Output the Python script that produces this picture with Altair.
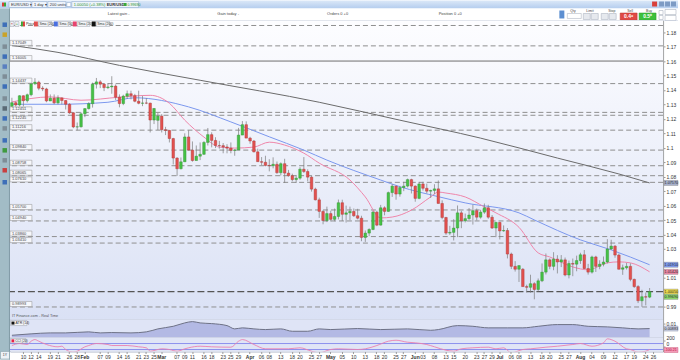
import altair as alt
import pandas as pd

FONT = "Liberation Sans"

# ---------------------------------------------------------------- data
days = [d.strftime("%Y-%m-%d") for d in pd.bdate_range("2022-01-05", "2022-08-30")]
N = 167  # candles Jan 5 .. Aug 25, 2022 (last 3 slots empty)

open_px = [
    1.1286, 1.1312, 1.1296, 1.1360, 1.1326, 1.1367, 1.1443, 1.1454, 1.1412, 1.1407,
    1.1324, 1.1343, 1.1311, 1.1345, 1.1327, 1.1301, 1.1242, 1.1144, 1.1145, 1.1235,
    1.1271, 1.1305, 1.1440, 1.1456, 1.1440, 1.1416, 1.1421, 1.1427, 1.1350, 1.1306,
    1.1357, 1.1374, 1.1361, 1.1322, 1.1308, 1.1310, 1.1309, 1.1192, 1.1190, 1.1219,
    1.1125, 1.1120, 1.1064, 1.0929, 1.0855, 1.0903, 1.1075, 1.0984, 1.0912, 1.0942,
    1.0955, 1.1037, 1.1091, 1.1051, 1.1016, 1.1015, 1.1006, 1.0998, 1.0982, 1.0985,
    1.1088, 1.1160, 1.1067, 1.1047, 1.0972, 1.0904, 1.0900, 1.0878, 1.0876, 1.0886,
    1.0828, 1.0890, 1.0825, 1.0807, 1.0780, 1.0790, 1.0852, 1.0836, 1.0797, 1.0714,
    1.0640, 1.0560, 1.0497, 1.0545, 1.0505, 1.0525, 1.0620, 1.0540, 1.0550, 1.0560,
    1.0530, 1.0513, 1.0380, 1.0410, 1.0435, 1.0555, 1.0465, 1.0585, 1.0560, 1.0690,
    1.0735, 1.0680, 1.0725, 1.0735, 1.0780, 1.0735, 1.0650, 1.0750, 1.0720, 1.0700,
    1.0705, 1.0716, 1.0615, 1.0518, 1.0410, 1.0415, 1.0445, 1.0550, 1.0495, 1.0510,
    1.0535, 1.0565, 1.0520, 1.0555, 1.0585, 1.0520, 1.0445, 1.0484, 1.0425, 1.0428,
    1.0265, 1.0180, 1.0160, 1.0160, 1.0040, 1.0035, 1.0060, 1.0020, 1.0080, 1.0140,
    1.0225, 1.0180, 1.0230, 1.0210, 1.0225, 1.0120, 1.0200, 1.0195, 1.0220, 1.0260,
    1.0165, 1.0140, 1.0245, 1.0180, 1.0195, 1.0210, 1.0300, 1.0320, 1.0258, 1.0160,
    1.0170, 1.0180, 1.0090, 1.0040, 0.9942, 0.9970, 0.9967]
high_px = [
    1.1346, 1.1321, 1.1364, 1.1363, 1.1375, 1.1450, 1.1482, 1.1464, 1.1426, 1.1415,
    1.1369, 1.1369, 1.1363, 1.1348, 1.1330, 1.1308, 1.1247, 1.1175, 1.1245, 1.1275,
    1.1315, 1.1451, 1.1483, 1.1468, 1.1442, 1.1447, 1.1495, 1.1438, 1.1369, 1.1367,
    1.1396, 1.1395, 1.1373, 1.1395, 1.1360, 1.1344, 1.1312, 1.1275, 1.1242, 1.1233,
    1.1145, 1.1124, 1.1069, 1.0935, 1.0933, 1.1100, 1.1121, 1.1044, 1.1016, 1.1037,
    1.1046, 1.1137, 1.1107, 1.1073, 1.1048, 1.1033, 1.1025, 1.1037, 1.0991, 1.1138,
    1.1185, 1.1183, 1.1076, 1.1054, 1.0994, 1.0936, 1.0945, 1.0921, 1.0934, 1.0905,
    1.0899, 1.0924, 1.0847, 1.0821, 1.0812, 1.0866, 1.0936, 1.0851, 1.0805, 1.0724,
    1.0655, 1.0568, 1.0593, 1.0565, 1.0580, 1.0642, 1.0641, 1.0600, 1.0593, 1.0580,
    1.0578, 1.0530, 1.0428, 1.0443, 1.0564, 1.0565, 1.0605, 1.0595, 1.0697, 1.0748,
    1.0736, 1.0737, 1.0765, 1.0787, 1.0786, 1.0740, 1.0764, 1.0765, 1.0752, 1.0710,
    1.0748, 1.0774, 1.0637, 1.0522, 1.0460, 1.0506, 1.0601, 1.0564, 1.0545, 1.0583,
    1.0606, 1.0580, 1.0571, 1.0615, 1.0606, 1.0535, 1.0488, 1.0486, 1.0463, 1.0445,
    1.0275, 1.0216, 1.0188, 1.0168, 1.0053, 1.0122, 1.0070, 1.0096, 1.0200, 1.0269,
    1.0235, 1.0278, 1.0257, 1.0258, 1.0241, 1.0220, 1.0234, 1.0254, 1.0274, 1.0293,
    1.0197, 1.0254, 1.0253, 1.0222, 1.0248, 1.0368, 1.0364, 1.0327, 1.0268, 1.0192,
    1.0203, 1.0201, 1.0095, 1.0050, 1.0018, 0.9999, 1.0030]
low_px = [
    1.1273, 1.1284, 1.1286, 1.1286, 1.1313, 1.1356, 1.1434, 1.1398, 1.1392, 1.1315,
    1.1323, 1.1302, 1.1300, 1.1300, 1.1265, 1.1235, 1.1136, 1.1121, 1.1140, 1.1212,
    1.1265, 1.1278, 1.1410, 1.1413, 1.1392, 1.1406, 1.1374, 1.1331, 1.1280, 1.1295,
    1.1339, 1.1335, 1.1315, 1.1301, 1.1288, 1.1302, 1.1106, 1.1164, 1.1123, 1.1106,
    1.1088, 1.1037, 1.0885, 1.0806, 1.0851, 1.0903, 1.0982, 1.0904, 1.0912, 1.0915,
    1.0951, 1.1016, 1.1003, 1.0998, 1.0994, 1.0962, 1.0962, 1.0962, 1.0945, 1.0985,
    1.1088, 1.1067, 1.1028, 1.0968, 1.0902, 1.0880, 1.0872, 1.0837, 1.0858, 1.0820,
    1.0809, 1.0757, 1.0800, 1.0768, 1.0757, 1.0779, 1.0826, 1.0768, 1.0697, 1.0636,
    1.0515, 1.0471, 1.0486, 1.0490, 1.0492, 1.0505, 1.0494, 1.0483, 1.0500, 1.0522,
    1.0505, 1.0354, 1.0349, 1.0389, 1.0430, 1.0458, 1.0462, 1.0533, 1.0557, 1.0660,
    1.0641, 1.0662, 1.0700, 1.0726, 1.0684, 1.0627, 1.0644, 1.0704, 1.0685, 1.0653,
    1.0679, 1.0614, 1.0506, 1.0398, 1.0397, 1.0359, 1.0382, 1.0444, 1.0484, 1.0502,
    1.0469, 1.0498, 1.0510, 1.0543, 1.0509, 1.0439, 1.0382, 1.0366, 1.0419, 1.0235,
    1.0161, 1.0144, 1.0072, 1.0039, 0.9999, 0.9998, 0.9952, 1.0006, 1.0071, 1.0124,
    1.0160, 1.0153, 1.0131, 1.0175, 1.0111, 1.0097, 1.0112, 1.0146, 1.0197, 1.0160,
    1.0123, 1.0130, 1.0141, 1.0160, 1.0180, 1.0200, 1.0293, 1.0240, 1.0158, 1.0121,
    1.0158, 1.0077, 1.0031, 0.9926, 0.9900, 0.9910, 0.9960]
close_px = [
    1.1312, 1.1296, 1.1360, 1.1326, 1.1367, 1.1443, 1.1454, 1.1412, 1.1407, 1.1324,
    1.1343, 1.1311, 1.1345, 1.1327, 1.1301, 1.1242, 1.1144, 1.1145, 1.1235, 1.1271,
    1.1305, 1.1440, 1.1456, 1.1440, 1.1416, 1.1421, 1.1427, 1.1350, 1.1306, 1.1357,
    1.1374, 1.1361, 1.1322, 1.1308, 1.1310, 1.1309, 1.1192, 1.1272, 1.1219, 1.1125,
    1.1120, 1.1064, 1.0929, 1.0855, 1.0903, 1.1075, 1.0984, 1.0912, 1.0942, 1.0955,
    1.1037, 1.1091, 1.1051, 1.1016, 1.1015, 1.1006, 1.0998, 1.0982, 1.0985, 1.1088,
    1.1160, 1.1067, 1.1047, 1.0972, 1.0904, 1.0900, 1.0878, 1.0876, 1.0886, 1.0828,
    1.0890, 1.0825, 1.0807, 1.0780, 1.0790, 1.0852, 1.0836, 1.0797, 1.0714, 1.0640,
    1.0560, 1.0497, 1.0545, 1.0505, 1.0525, 1.0620, 1.0540, 1.0550, 1.0560, 1.0530,
    1.0513, 1.0380, 1.0410, 1.0435, 1.0555, 1.0465, 1.0585, 1.0560, 1.0690, 1.0735,
    1.0680, 1.0725, 1.0735, 1.0780, 1.0735, 1.0650, 1.0750, 1.0720, 1.0700, 1.0705,
    1.0716, 1.0615, 1.0518, 1.0410, 1.0415, 1.0445, 1.0550, 1.0495, 1.0510, 1.0535,
    1.0565, 1.0520, 1.0555, 1.0585, 1.0520, 1.0445, 1.0484, 1.0425, 1.0428, 1.0265,
    1.0180, 1.0160, 1.0185, 1.0040, 1.0035, 1.0060, 1.0020, 1.0080, 1.0140, 1.0225,
    1.0180, 1.0230, 1.0210, 1.0225, 1.0120, 1.0200, 1.0195, 1.0220, 1.0260, 1.0165,
    1.0140, 1.0245, 1.0180, 1.0195, 1.0210, 1.0300, 1.0320, 1.0258, 1.0160, 1.0170,
    1.0180, 1.0090, 1.0040, 0.9942, 0.9970, 0.9967, 1.0005]

# moving averages (trading-day number, value)
sma200_day = [0, 12, 28, 49, 80, 101, 122, 142, 158, 166]
sma200_val = [1.1708, 1.1660, 1.1570, 1.1467, 1.1315, 1.1191, 1.1067, 1.0929, 1.0819, 1.0757]
sma50_day = [0, 12, 25, 32, 46, 57, 67, 76, 82, 96, 101, 111, 118, 132, 136, 148, 156, 166]
sma50_val = [1.1301, 1.1301, 1.1315, 1.1346, 1.1283, 1.1179, 1.1076, 1.0984, 1.0915, 1.0777,
             1.0731, 1.0662, 1.0619, 1.0550, 1.0501, 1.0363, 1.0294, 1.0191]
sma20_day = [0, 10, 18, 28, 36, 41, 45, 50, 54, 58, 63, 67, 71, 76, 80, 88, 92, 96, 99, 104,
             109, 111, 113, 118, 123, 126, 132, 137, 140, 146, 150, 155, 158, 161, 166]
sma20_val = [1.1317, 1.1352, 1.1329, 1.1350, 1.1363, 1.1308, 1.1191, 1.1074, 1.1005, 1.0998,
             1.1005, 1.1039, 1.1019, 1.0963, 1.0894, 1.0777, 1.0660, 1.0515, 1.0521, 1.0569,
             1.0660, 1.0694, 1.0687, 1.0660, 1.0591, 1.0550, 1.0450, 1.0273, 1.0245, 1.0176,
             1.0156, 1.0204, 1.0211, 1.0204, 1.0142]

atr_day = [0, 5, 10, 14, 20, 23, 26, 31, 35, 38, 42, 45, 47, 49, 52, 56, 58, 60, 63, 66, 70, 73,
           77, 80, 83, 90, 96, 103, 109, 111, 116, 120, 124, 129, 133, 137, 142, 146, 150, 155,
           159, 163, 166]
atr_val = [0.00726, 0.00759, 0.00782, 0.00782, 0.00806, 0.00782, 0.00790, 0.00782, 0.00806,
           0.00876, 0.00937, 0.01016, 0.01047, 0.01016, 0.01000, 0.00953, 0.00876, 0.00900,
           0.00876, 0.00860, 0.00876, 0.00820, 0.00820, 0.00876, 0.00860, 0.00884, 0.00860,
           0.00876, 0.00843, 0.00860, 0.00953, 0.00937, 0.00900, 0.00900, 0.00900, 0.00937,
           0.00977, 0.00977, 0.00937, 0.00923, 0.00900, 0.00876, 0.00883]

cci_day = [0, 2, 4, 5, 6, 7, 9, 12, 13, 14, 16, 17, 19, 20, 22, 25, 26, 30, 33, 35, 36, 38, 39,
           41, 43, 45, 46, 49, 52, 57, 59, 60, 63, 66, 69, 72, 75, 78, 80, 83, 85, 90, 92, 95,
           98, 100, 103, 105, 108, 110, 113, 115, 117, 120, 124, 126, 128, 130, 133, 135, 139,
           142, 146, 148, 151, 154, 155, 157, 160, 161, 163, 165, 166]
cci_val = [33, 100, 67, 177, 233, 177, 67, -10, 10, -100, -190, -157, -10, 33, 100, 67, 33, 33,
           -10, -43, -157, -100, -77, -100, -157, -77, -43, 10, -10, -23, 177, 233, 67, -77, -77,
           -77, -43, -157, -210, -100, -77, -100, -77, 33, 177, 210, 143, 123, 67, -10, -123,
           -157, -77, -43, -23, -77, -43, -210, -100, -77, -23, 10, 67, 100, 10, 123, 257, 177,
           -77, -100, -190, -157, -100]

# horizontal levels drawn on the chart
level_price = [1.1846, 1.1705, 1.1444, 1.1245, 1.1225, 1.1122, 1.0984, 1.0876, 1.0807,
               1.0761, 1.0570, 1.0494, 1.0386, 1.0341, 0.9899]
level_label = ["", "1.17049", "1.14437", "1.12451", "1.12245", "1.11216", "1.09840",
               "1.08758", "1.08065", "1.07610", "1.05700", "1.04940", "1.03860", "1.03410",
               "0.98993"]
labels_below = ["1.12245"]
solid_price = [1.1600]
solid_label = ["1.16005"]
last_price = [1.0005]

tag_price = [1.0757, 1.0191, 1.0142, 1.0005, 0.9969]
tag_label = ["1.07570", "1.01910", "1.01420", "1.00050", "0.99690"]
tag_fill = ["#a9b3cf", "#7f9cf2", "#f08aa8", "#f4e04d", "#8fdc6e"]

price_ticks = [1.18, 1.17, 1.16, 1.15, 1.14, 1.13, 1.12, 1.11, 1.10, 1.09, 1.08, 1.07,
               1.06, 1.05, 1.04, 1.03, 1.01, 0.99]

tick_days = [
    "2022-01-10", "2022-01-12", "2022-01-14", "2022-01-19", "2022-01-21", "2022-01-26", "2022-01-28",
    "2022-02-01", "2022-02-07", "2022-02-09", "2022-02-14", "2022-02-16", "2022-02-21", "2022-02-23",
    "2022-02-25", "2022-03-01", "2022-03-07", "2022-03-09", "2022-03-11", "2022-03-16", "2022-03-18",
    "2022-03-23", "2022-03-25", "2022-03-29", "2022-04-01", "2022-04-06", "2022-04-08", "2022-04-13",
    "2022-04-18", "2022-04-20", "2022-04-25", "2022-04-27", "2022-05-02", "2022-05-05", "2022-05-10",
    "2022-05-13", "2022-05-18", "2022-05-20", "2022-05-25", "2022-05-27", "2022-06-01", "2022-06-03",
    "2022-06-08", "2022-06-13", "2022-06-15", "2022-06-20", "2022-06-23", "2022-06-27", "2022-06-29",
    "2022-07-01", "2022-07-06", "2022-07-08", "2022-07-13", "2022-07-18", "2022-07-20", "2022-07-25",
    "2022-07-27", "2022-08-01", "2022-08-04", "2022-08-09", "2022-08-12", "2022-08-17", "2022-08-19",
    "2022-08-24", "2022-08-26"]
month_starts = ["2022-02-01", "2022-03-01", "2022-04-01", "2022-05-02", "2022-06-01",
                "2022-07-01", "2022-08-01"]

# ---------------------------------------------------------------- frames
candles = pd.DataFrame({"date": days[:N], "open": open_px, "high": high_px,
                        "low": low_px, "close": close_px})
sma200 = pd.DataFrame({"date": [days[i] for i in sma200_day], "v": sma200_val})
sma50 = pd.DataFrame({"date": [days[i] for i in sma50_day], "v": sma50_val})
sma20 = pd.DataFrame({"date": [days[i] for i in sma20_day], "v": sma20_val})
atr = pd.DataFrame({"date": [days[i] for i in atr_day], "v": atr_val})
cci = pd.DataFrame({"date": [days[i] for i in cci_day], "v": cci_val})
levels = pd.DataFrame({"price": level_price, "label": level_label})
lab_above = levels[(levels["label"] != "") & (~levels["label"].isin(labels_below))]
lab_below = levels[levels["label"].isin(labels_below)]
solid = pd.DataFrame({"price": solid_price, "label": solid_label})
lastp = pd.DataFrame({"price": last_price})
tags = pd.DataFrame({"price": tag_price, "label": tag_label, "bg": tag_fill})
ONE = pd.DataFrame({"k": [0]})

# ---------------------------------------------------------------- helpers
W, H = 655, 300
Y_LO, Y_HI = 0.98117, 1.18807
YS = alt.Scale(domain=[Y_LO, Y_HI], nice=False, zero=False)
XS = alt.Scale(type="band", domain=days, paddingInner=0, paddingOuter=0)
UP, DOWN = "#46c146", "#e2514f"
UP_EDGE, DOWN_EDGE = "#2f8f2f", "#a83535"


def raxis(values, expr, baseline="middle"):
    return alt.Axis(orient="right", values=values, labelExpr=expr, title=None, grid=False,
                    labelFontSize=5, labelColor="#333333", labelFont=FONT, tickSize=2,
                    tickColor="#9a9a9a", domainColor="#a5a5a5", labelPadding=1,
                    minExtent=15, maxExtent=15, labelOverlap=False, labelBaseline=baseline)


YAX = raxis(price_ticks, "format(datum.value, '.2~f')")


def XD(axis=None):
    return alt.X("date:O", scale=XS, axis=axis, bandPosition=0.5)


def YP(field):
    return alt.Y(field, scale=YS, axis=YAX)


def vtext(x, y, s, size=4.5, color="#333333", weight="normal", align="left"):
    return alt.Chart(ONE).mark_text(text=s, fontSize=size, color=color, fontWeight=weight,
                                    align=align, baseline="middle", font=FONT).encode(
        x=alt.value(x), y=alt.value(y))


def vbox(x1, y1, x2, y2, fill, stroke="", sw=0.5, radius=0):
    kw = dict(fill=fill, strokeWidth=0, cornerRadius=radius)
    if stroke:
        kw.update(stroke=stroke, strokeWidth=sw)
    return alt.Chart(ONE).mark_rect(**kw).encode(
        x=alt.value(x1), x2=alt.value(x2), y=alt.value(y1), y2=alt.value(y2))


def vgrad(c1, c2):
    return alt.Gradient(gradient="linear", x1=0, x2=0, y1=0, y2=1,
                        stops=[alt.GradientStop(offset=0, color=c1),
                               alt.GradientStop(offset=1, color=c2)])


BOX22 = "M-1,-0.23H1V0.23H-1Z"
BOX14 = "M-1,-0.36H1V0.36H-1Z"

# ---------------------------------------------------------------- title bar
title_layers = [
    vbox(0, 0, 680, 8, vgrad("#dbe8f8", "#b4cdee")),
    vbox(2, 2, 4, 6, "#d9403a"), vbox(4, 2, 6, 6, "#3aa83a"),
    vbox(9, 1, 31, 7, "#eef4fc", "#8ca6c9"), vtext(11, 4, "EUR/USD  ▾", 4),
    vbox(32, 1, 47, 7, "#eef4fc", "#8ca6c9"), vtext(34, 4, "1 day  ▾", 4),
    vbox(48, 1, 66, 7, "#eef4fc", "#8ca6c9"), vtext(50, 4, "200 units  ▾", 4),
    vbox(67, 2, 71, 6, "#ffffff", "#8ca6c9"),
    vbox(72, 1, 139, 7, "#eef4fc", "#8ca6c9"),
    vtext(74, 4, "1.00050 (+0.38%)", 4, "#2d8c2d"),
    vtext(107, 4, "EUR/USD", 4, "#333333", "bold"),
    vbox(124, 2.5, 127, 5.5, "#3aa83a"),
    vtext(128, 4, "0.99690", 3.6, "#2d8c2d"),
    vbox(654, 1, 659, 6, "#d9403a"), vbox(661, 1, 666, 6, "#7d9bc4"),
    vbox(667, 1, 672, 6, "#7d9bc4"), vbox(673, 1, 678, 6, "#7d9bc4"),
]
titlebar = alt.layer(*title_layers).properties(width=680, height=8)

# ---------------------------------------------------------------- info bar (x = abs - 10)
info_layers = [
    vbox(0, 0, 670, 12, "#ffffff"),
    vtext(98, 6, "Latest gain  -", 4, "#444444"),
    vtext(208, 6, "Gain today  -", 4, "#444444"),
    vtext(318, 6, "Orders  0  +0", 4, "#444444"),
    vtext(430, 6, "Position  0  +0", 4, "#444444"),
    vbox(551, 2, 556, 10, "#5d8fd1"),
    vtext(562, 2.5, "Qty", 3.5, "#444444"),
    vbox(559, 5, 573, 10, "#ffffff", "#a0a8b8"),
    vtext(578, 2.5, "Limit", 3.5, "#444444"),
    vbox(575, 5, 582, 11, "#e6e9ee", "#a0a8b8"), vbox(583, 5, 590, 11, "#e6e9ee", "#a0a8b8"),
    vtext(600, 2.5, "Stop", 3.5, "#444444"),
    vbox(593, 5, 600, 11, "#e6e9ee", "#a0a8b8"), vbox(601, 5, 608, 11, "#e6e9ee", "#a0a8b8"),
    vtext(619, 2.5, "Sell", 3.5, "#444444"),
    vbox(612, 4.5, 629, 11.5, "#e04a45", "#b83430"),
    vtext(620.5, 8, "0.4⁹", 5, "#ffffff", "bold", "center"),
    vtext(638, 2.5, "Buy", 3.5, "#444444"),
    vbox(631, 4.5, 648, 11.5, "#3cc13c", "#2c962c"),
    vtext(639.5, 8, "0.5⁰", 5, "#ffffff", "bold", "center"),
    vbox(651, 2, 655, 6, "#ffffff", "#9aa4b4"), vbox(651, 7, 655, 11, "#ffffff", "#9aa4b4"),
    vbox(657, 1, 668, 6, "#ffffff", "#9aa4b4"), vbox(657, 7, 668, 12, "#ffffff", "#9aa4b4"),
    vbox(0, 11.5, 670, 12, "#c9d2e2"),
]
infobar = alt.layer(*info_layers).properties(width=670, height=12)

# ---------------------------------------------------------------- main price panel
bg = alt.Chart(ONE).mark_rect(fill=vgrad("#fdfdff", "#dae1f5")).encode(
    y=alt.YDatum(Y_HI, type="quantitative", scale=YS, axis=YAX), y2=alt.Y2Datum(Y_LO))
lv = alt.Chart(levels).mark_rule(color="#8f8f8f", strokeDash=[5, 3], strokeWidth=1).encode(
    y=YP("price:Q"))
sl = alt.Chart(solid).mark_rule(color="#6e6e6e", strokeWidth=1).encode(y=YP("price:Q"))
lp = alt.Chart(lastp).mark_rule(color="#555555", strokeDash=[7, 3], strokeWidth=1.3).encode(
    y=YP("price:Q"))
l200 = alt.Chart(sma200).mark_line(color="#6a6a6a", strokeWidth=1, interpolate="monotone").encode(
    x=XD(), y=YP("v:Q"))
l50 = alt.Chart(sma50).mark_line(color="#7b98ee", strokeWidth=1, interpolate="monotone").encode(
    x=XD(), y=YP("v:Q"))
l20 = alt.Chart(sma20).mark_line(color="#ef86aa", strokeWidth=1, interpolate="monotone").encode(
    x=XD(), y=YP("v:Q"))
wick = alt.Chart(candles).mark_rule(color="#7a7a7a", strokeWidth=0.7).encode(
    x=XD(), y=YP("low:Q"), y2="high:Q")
up_test = "datum.close >= datum.open"
body = alt.Chart(candles).mark_bar(width=2.6, strokeWidth=0.4).encode(
    x=alt.X("date:O", scale=XS, axis=None),
    y=YP("open:Q"), y2="close:Q",
    color=alt.condition(up_test, alt.value(UP), alt.value(DOWN)),
    stroke=alt.condition(up_test, alt.value(UP_EDGE), alt.value(DOWN_EDGE)))


def left_labels(df, off):
    box = alt.Chart(df).mark_point(shape=BOX22, size=484, fill="#f6f7fb", stroke="#8f8f8f",
                                   strokeWidth=0.5, opacity=1, fillOpacity=1, yOffset=off).encode(
        x=alt.value(11), y=YP("price:Q"))
    txt = alt.Chart(df).mark_text(align="left", baseline="middle", fontSize=4, font=FONT,
                                  color="#444444", dy=off).encode(
        x=alt.value(2), y=YP("price:Q"), text="label:N")
    return [box, txt]


tag_box = alt.Chart(tags).mark_point(shape=BOX14, size=196, strokeWidth=0.4, stroke="#777777",
                                     opacity=1, fillOpacity=1).encode(
    x=alt.value(663), y=YP("price:Q"), fill=alt.Fill("bg:N", scale=None))
tag_txt = alt.Chart(tags).mark_text(align="left", baseline="middle", fontSize=3.8, font=FONT,
                                    color="#222222").encode(
    x=alt.value(656.5), y=YP("price:Q"), text="label:N")

legend_layers = [
    vbox(0, 1, 4, 6, "#eef0f4", "#9aa0aa"), vtext(2, 3.5, "×", 4, "#c03030", "normal", "center"),
    vbox(5, 1, 9, 6, "#eef0f4", "#9aa0aa"), vtext(7, 3.5, "+", 4, "#30a030", "normal", "center"),
    vbox(11, 1, 13, 6, "#3aa83a"), vbox(13, 1, 15, 6, "#d9403a"),
    vtext(16, 3.5, "Price", 3.8),
    vbox(24, 1, 28, 6, "#e0504e"), vbox(28.5, 1, 42, 6, "#f4f5f8", "#9aa0aa"),
    vtext(29.5, 3.5, "Sma (200)", 3.5),
    vbox(44, 1, 48, 6, "#4a6fe0"), vbox(48.5, 1, 61, 6, "#f4f5f8", "#9aa0aa"),
    vtext(49.5, 3.5, "Sma (50)", 3.5),
    vbox(63, 1, 67, 6, "#e8436e"), vbox(67.5, 1, 80, 6, "#f4f5f8", "#9aa0aa"),
    vtext(68.5, 3.5, "Sma (20)", 3.5),
    vbox(82, 1, 86, 6, "#111111"), vbox(86.5, 1, 100, 6, "#f4f5f8", "#9aa0aa"),
    vtext(87.5, 3.5, "Sma (200)", 3.5),
    vtext(2, 296.5, "IT Finance.com - Real Time", 3.8, "#555555"),
]

main = alt.layer(
    bg, lv, sl, lp, l200, l50, l20, wick, body,
    *left_labels(lab_above, -3), *left_labels(lab_below, 3), *left_labels(solid, -3),
    tag_box, tag_txt, *legend_layers
).properties(width=W, height=H, view=alt.ViewBackground(stroke="#aeb6c8", strokeWidth=1))

# ---------------------------------------------------------------- ATR panel
A_LO, A_HI = 0.00673, 0.01094
AS = alt.Scale(domain=[A_LO, A_HI], nice=False, zero=False)
AAX = raxis([0.01], "'0.01'")
atr_bg = alt.Chart(ONE).mark_rect(fill="#dfe4f6").encode(
    y=alt.YDatum(A_HI, type="quantitative", scale=AS, axis=AAX), y2=alt.Y2Datum(A_LO))
atr_area = alt.Chart(atr).mark_area(
    color="#b3b9e4", line=alt.OverlayMarkDef(color="#6d7186", strokeWidth=1),
    interpolate="monotone", opacity=1).encode(
    x=XD(), y=alt.Y("v:Q", scale=AS, axis=AAX), y2=alt.Y2Datum(A_LO))
atr_tagdf = pd.DataFrame({"v": [0.00883], "label": ["0.00883"]})
atr_tag = alt.Chart(atr_tagdf).mark_point(shape=BOX14, size=196, fill="#c9cee2",
                                         stroke="#8a8fa6", strokeWidth=0.4, opacity=1,
                                         fillOpacity=1).encode(
    x=alt.value(663), y=alt.Y("v:Q", scale=AS, axis=AAX))
atr_tagt = alt.Chart(atr_tagdf).mark_text(align="left", baseline="middle", fontSize=3.8,
                                         font=FONT, color="#222222").encode(
    x=alt.value(656.5), y=alt.Y("v:Q", scale=AS, axis=AAX), text="label:N")
atr_panel = alt.layer(
    atr_bg, atr_area, atr_tag, atr_tagt,
    vbox(0.5, 1, 17, 6, "#f4f5f8", "#9aa0aa"), vbox(1.5, 2, 4.5, 5, "#111111"),
    vtext(5.5, 3.5, "ATR (14)", 3.5),
).properties(width=W, height=18, view=alt.ViewBackground(stroke="#aeb6c8", strokeWidth=1))

# ---------------------------------------------------------------- CCI panel
C_LO, C_HI = -166.7, 300
CS = alt.Scale(domain=[C_LO, C_HI], nice=False, zero=False)
CAX = raxis([200, 0], "format(datum.value, 'd')", "bottom")
MS = "[" + ",".join("'%s'" % d for d in month_starts) + "]"
MONTHS = "['Jan','Feb','Mar','Apr','May','Jun','Jul','Aug','Sep','Oct','Nov','Dec']"
XAX = alt.Axis(
    values=tick_days, title=None, grid=False, labelAngle=0, labelFontSize=5, labelFont=FONT,
    labelColor="#333333", tickSize=2, tickColor="#9a9a9a", domain=False, labelPadding=1,
    labelOverlap=False, minExtent=8, maxExtent=8,
    labelExpr="indexof(%s, datum.value) >= 0 ? %s[toNumber(slice(datum.value, 5, 7)) - 1]"
              " : slice(datum.value, 8, 10)" % (MS, MONTHS),
    labelFontWeight={"condition": {"test": "indexof(%s, datum.value) >= 0" % MS,
                                   "value": "bold"}, "value": "normal"})
cci_bg = alt.Chart(ONE).mark_rect(fill="#e0e5f6").encode(
    y=alt.YDatum(C_HI, type="quantitative", scale=CS, axis=CAX), y2=alt.Y2Datum(C_LO))
cci_lvls = pd.DataFrame({"v": [100, -100]})
cci_rule = alt.Chart(cci_lvls).mark_rule(color="#8d92ee", strokeWidth=1).encode(
    y=alt.Y("v:Q", scale=CS, axis=CAX))
cci_line = alt.Chart(cci).mark_line(color="#ec7fae", strokeWidth=0.9, clip=True,
                                   interpolate="monotone").encode(
    x=XD(XAX), y=alt.Y("v:Q", scale=CS, axis=CAX))
cci_tagdf = pd.DataFrame({"v": [-100], "label": ["-100.21"]})
cci_tag = alt.Chart(cci_tagdf).mark_point(shape=BOX14, size=196, fill="#f59ab8",
                                         stroke="#c0506e", strokeWidth=0.4, opacity=1,
                                         fillOpacity=1, yOffset=0.5).encode(
    x=alt.value(663), y=alt.Y("v:Q", scale=CS, axis=CAX))
cci_tagt = alt.Chart(cci_tagdf).mark_text(align="left", baseline="middle", fontSize=3.6,
                                         font=FONT, color="#b01030", dy=0.5).encode(
    x=alt.value(656.5), y=alt.Y("v:Q", scale=CS, axis=CAX), text="label:N")
cci_panel = alt.layer(
    cci_bg, cci_rule, cci_line, cci_tag, cci_tagt,
    vbox(0.5, 1, 16, 5.5, "#f4f5f8", "#9aa0aa"), vbox(1.5, 1.8, 4.3, 4.8, "#e8204a"),
    vtext(5.3, 3.3, "CCI (20)", 3.3),
).properties(width=W, height=14, view=alt.ViewBackground(stroke="#aeb6c8", strokeWidth=1))

# ---------------------------------------------------------------- left toolbar
icon_y = [14, 24, 36, 46, 56, 66, 76, 88, 98, 108, 118, 130, 140, 150, 160, 172]
icon_c = ["#3e6fb8", "#c9a32a", "#7e8d97", "#3e6fb8", "#5a7fc0", "#7e8d97", "#3e6fb8",
          "#7e8d97", "#5a6a75", "#3e6fb8", "#7e8d97", "#3e6fb8", "#3f9a3f", "#7e8d97",
          "#c84040", "#3e6fb8"]
left_layers = [vbox(0, 0, 10, 352, "#a2bcc6"), vbox(9, 0, 10, 352, "#7e99a4")]
for yy, cc in zip(icon_y, icon_c):
    left_layers.append(vbox(2.5, yy, 7, yy + 4.5, cc))
left_layers += [vbox(0.5, 344, 9.5, 351.5, "#eef2f6", "#7e99a4"),
                vtext(5, 347.8, "1Y", 3.5, "#333333", "normal", "center")]
leftbar = alt.layer(*left_layers).properties(width=10, height=352)

# ---------------------------------------------------------------- assemble
rightcol = alt.vconcat(infobar, main, atr_panel, cci_panel, spacing=0, bounds="flush")
bodyrow = alt.hconcat(leftbar, rightcol, spacing=0, bounds="flush")
chart = alt.vconcat(titlebar, bodyrow, spacing=0, bounds="flush").properties(
    padding=0, background="#ffffff"
).configure_view(strokeWidth=0)

chart.save("out.html", embed_options={"renderer": "svg", "actions": False})
